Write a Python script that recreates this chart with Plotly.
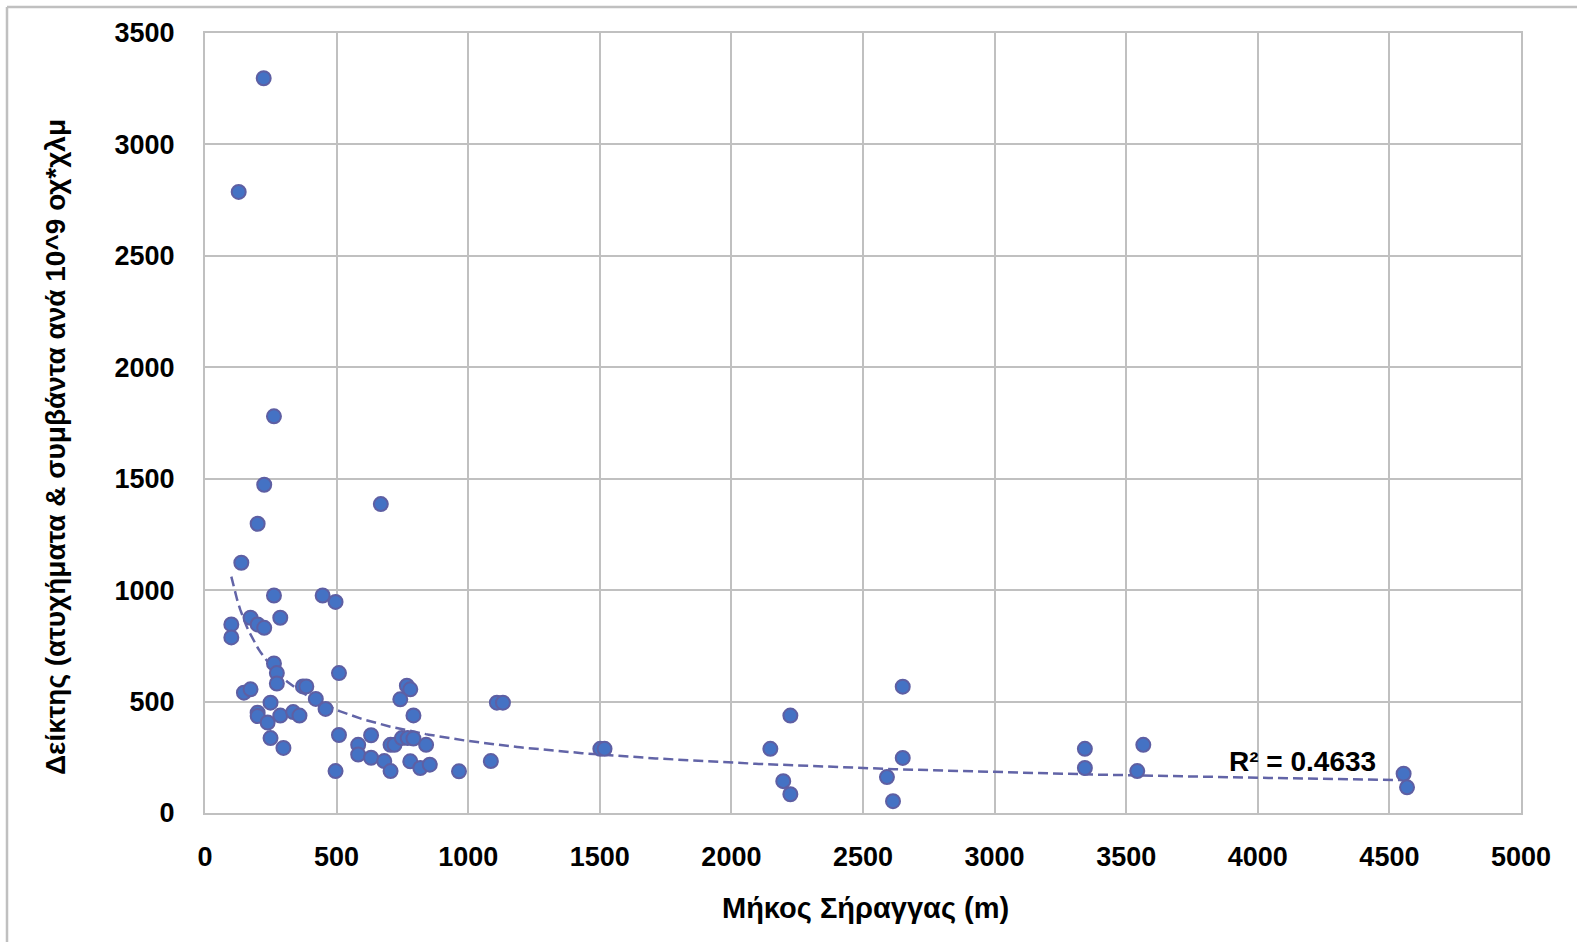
import numpy as np
import plotly.graph_objects as go

# Tunnel length (m)
tunnel_length = [
    223, 128, 262, 225, 200, 138, 668, 262, 447, 496,
    100, 100, 173, 200, 225, 286, 262, 273, 273, 509,
    148, 173, 372, 385, 421, 458, 249, 200, 200, 238,
    286, 335, 359, 249, 298, 509, 496, 582, 582, 631,
    631, 681, 705, 705, 720, 767, 780, 742, 792, 748,
    770, 792, 840, 780, 818, 854, 965, 1086, 1109, 1132,
    1502, 1518, 2148, 2224, 2197, 2224, 2591, 2614, 2651, 2651,
    3343, 3343, 3565, 3542, 4554, 4567,
]
# Index (accidents & incidents per 10^9 veh*km)
index_value = [
    3297, 2787, 1780, 1473, 1298, 1123, 1386, 976, 976, 947,
    846, 788, 876, 846, 831, 876, 671, 628, 581, 628,
    540, 555, 568, 568, 512, 467, 495, 450, 435, 406,
    437, 453, 437, 336, 292, 350, 188, 306, 262, 349,
    248, 233, 188, 306, 306, 571, 555, 510, 438, 336,
    336, 334, 306, 232, 202, 217, 187, 233, 495, 495,
    288, 288, 288, 437, 143, 84, 161, 53, 567, 247,
    288, 202, 306, 188, 176, 115,
]
r2_label = "R² = 0.4633"
x_title = "Μήκος Σήραγγας (m)"
y_title = "Δείκτης (ατυχήματα & συμβάντα ανά 10^9 οχ*χλμ"

# Power trendline (least squares in log space, like Excel)
lx = np.log(np.array(tunnel_length, dtype=float))
ly = np.log(np.array(index_value, dtype=float))
b, ln_a = np.polyfit(lx, ly, 1)
a = np.exp(ln_a)
tx = np.linspace(min(tunnel_length), max(tunnel_length), 400)
ty = a * tx ** b

FONT = "Liberation Sans, Arial, sans-serif"
GRID = "#C0C0C0"

fig = go.Figure()
fig.add_trace(go.Scatter(
    x=tx, y=ty, mode="lines",
    line=dict(color="#6264A7", width=2.5, dash="10px,5px"),
    hoverinfo="skip", showlegend=False,
))
fig.add_trace(go.Scatter(
    x=tunnel_length, y=index_value, mode="markers",
    marker=dict(size=14, color="#4472C4", line=dict(color="#5E5FA3", width=2)),
    showlegend=False,
))

L, R, T, B = 205, 56, 33, 129
W, H = 1577, 942
pw, ph = W - L - R, H - T - B

fig.update_layout(
    width=W, height=H,
    margin=dict(l=L, r=R, t=T, b=B, pad=0),
    paper_bgcolor="white", plot_bgcolor="white",
    font=dict(family=FONT, color="black"),
    xaxis=dict(
        range=[0, 5000], dtick=500, tick0=0,
        showgrid=True, gridcolor=GRID, gridwidth=2,
        showline=True, linecolor=GRID, linewidth=2, mirror=True,
        zeroline=False, ticks="",
        tickfont=dict(family=FONT, size=27, color="black", weight="bold"),
        ticklabelstandoff=19,
    ),
    yaxis=dict(
        range=[0, 3500], dtick=500, tick0=0,
        showgrid=True, gridcolor=GRID, gridwidth=2,
        showline=True, linecolor=GRID, linewidth=2, mirror=True,
        zeroline=False, ticks="",
        tickfont=dict(family=FONT, size=27, color="black", weight="bold"),
        ticklabelstandoff=23,
    ),
    annotations=[
        dict(text=x_title, xref="paper", yref="paper",
             x=(865 - L) / pw, y=(H - B - 908) / ph,
             xanchor="center", yanchor="middle", showarrow=False,
             font=dict(family=FONT, size=29, color="black", weight="bold")),
        dict(text=y_title, xref="paper", yref="paper",
             x=(55 - L) / pw, y=(H - B - 447) / ph, textangle=-90,
             xanchor="center", yanchor="middle", showarrow=False,
             font=dict(family=FONT, size=28, color="black", weight="bold")),
        dict(text=r2_label, xref="x", yref="y", x=4170, y=230,
             xanchor="center", yanchor="middle", showarrow=False,
             font=dict(family=FONT, size=28, color="black", weight="bold")),
    ],
    shapes=[
        dict(type="line", xref="paper", yref="paper",
             x0=(7 - L) / pw, x1=(W - L) / pw,
             y0=(H - B - 7) / ph, y1=(H - B - 7) / ph,
             line=dict(color=GRID, width=2.5)),
        dict(type="line", xref="paper", yref="paper",
             x0=(7 - L) / pw, x1=(7 - L) / pw,
             y0=(H - B - 7) / ph, y1=(H - B - H) / ph,
             line=dict(color=GRID, width=2.5)),
    ],
)

fig.write_html("out.html", config={"displayModeBar": False},
               post_script="document.body.style.margin='0';")
